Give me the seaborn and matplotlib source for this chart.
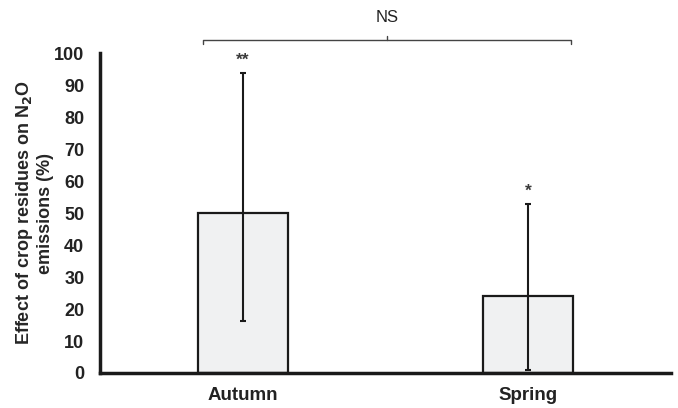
import pandas as pd
import matplotlib
matplotlib.use('Agg')
import matplotlib.pyplot as plt
import seaborn as sns

# Data
seasons = ['Autumn', 'Spring']
effect = [50.0, 24.2]
ci_low = [16.1, 1.0]
ci_high = [93.8, 52.8]
stars = ['**', '*']
bracket_label = 'NS'

df = pd.DataFrame({'Season': seasons, 'Effect': effect})

sns.set_style('white')
plt.rcParams['font.family'] = ['Liberation Sans', 'DejaVu Sans']

fig = plt.figure(figsize=(6.78, 4.08), dpi=100)
ax = fig.add_axes([0.148, 0.0858, 0.841, 0.784])

sns.barplot(x='Season', y='Effect', data=df, ax=ax, color='#f0f1f2',
            edgecolor='#1a1a1a', linewidth=1.6, width=0.316, errorbar=None)

# asymmetric error bars
lower = [e - lo for e, lo in zip(effect, ci_low)]
upper = [hi - e for e, hi in zip(effect, ci_high)]
ax.errorbar(range(len(seasons)), effect, yerr=[lower, upper], fmt='none',
            ecolor='#1a1a1a', elinewidth=1.5, capsize=2.5, capthick=1.5)

# significance stars above error bars
for i, (hi, s) in enumerate(zip(ci_high, stars)):
    ax.text(i, hi + 4.0, s, ha='center', va='center', fontsize=12.5,
            fontweight='bold', color='#3a3a3a')

# bracket across both seasons
yb = 104.2
xl, xr, xm = -0.14, 1.152, 0.505
ax.plot([xl, xl, xr, xr], [yb - 1.2, yb, yb, yb - 1.2], color='#444444',
        lw=1.0, clip_on=False)
ax.plot([xm, xm], [yb, yb + 1.2], color='#444444', lw=1.0, clip_on=False)
ax.text(xm, 111.2, bracket_label, ha='center', va='center', fontsize=12,
        color='#222222')

ax.set_xlim(-0.5, 1.5)
ax.set_ylim(0, 100)
ax.set_yticks(range(0, 101, 10))
ax.set_xlabel('')
ax.set_ylabel('Effect of crop residues on N$_\\mathbf{2}$O\nemissions (%)',
              fontsize=13, fontweight='bold', labelpad=0)
ax.tick_params(axis='y', length=0, labelsize=13, pad=11.5)
ax.tick_params(axis='x', length=0, labelsize=13.5, pad=10)
for lab in ax.get_xticklabels() + ax.get_yticklabels():
    lab.set_fontweight('bold')
    lab.set_color('#222222')

sns.despine(ax=ax)
ax.spines['left'].set_linewidth(2.5)
ax.spines['bottom'].set_linewidth(2.5)
ax.spines['left'].set_color('#1a1a1a')
ax.spines['bottom'].set_color('#1a1a1a')

plt.savefig('out.png', dpi=100)
